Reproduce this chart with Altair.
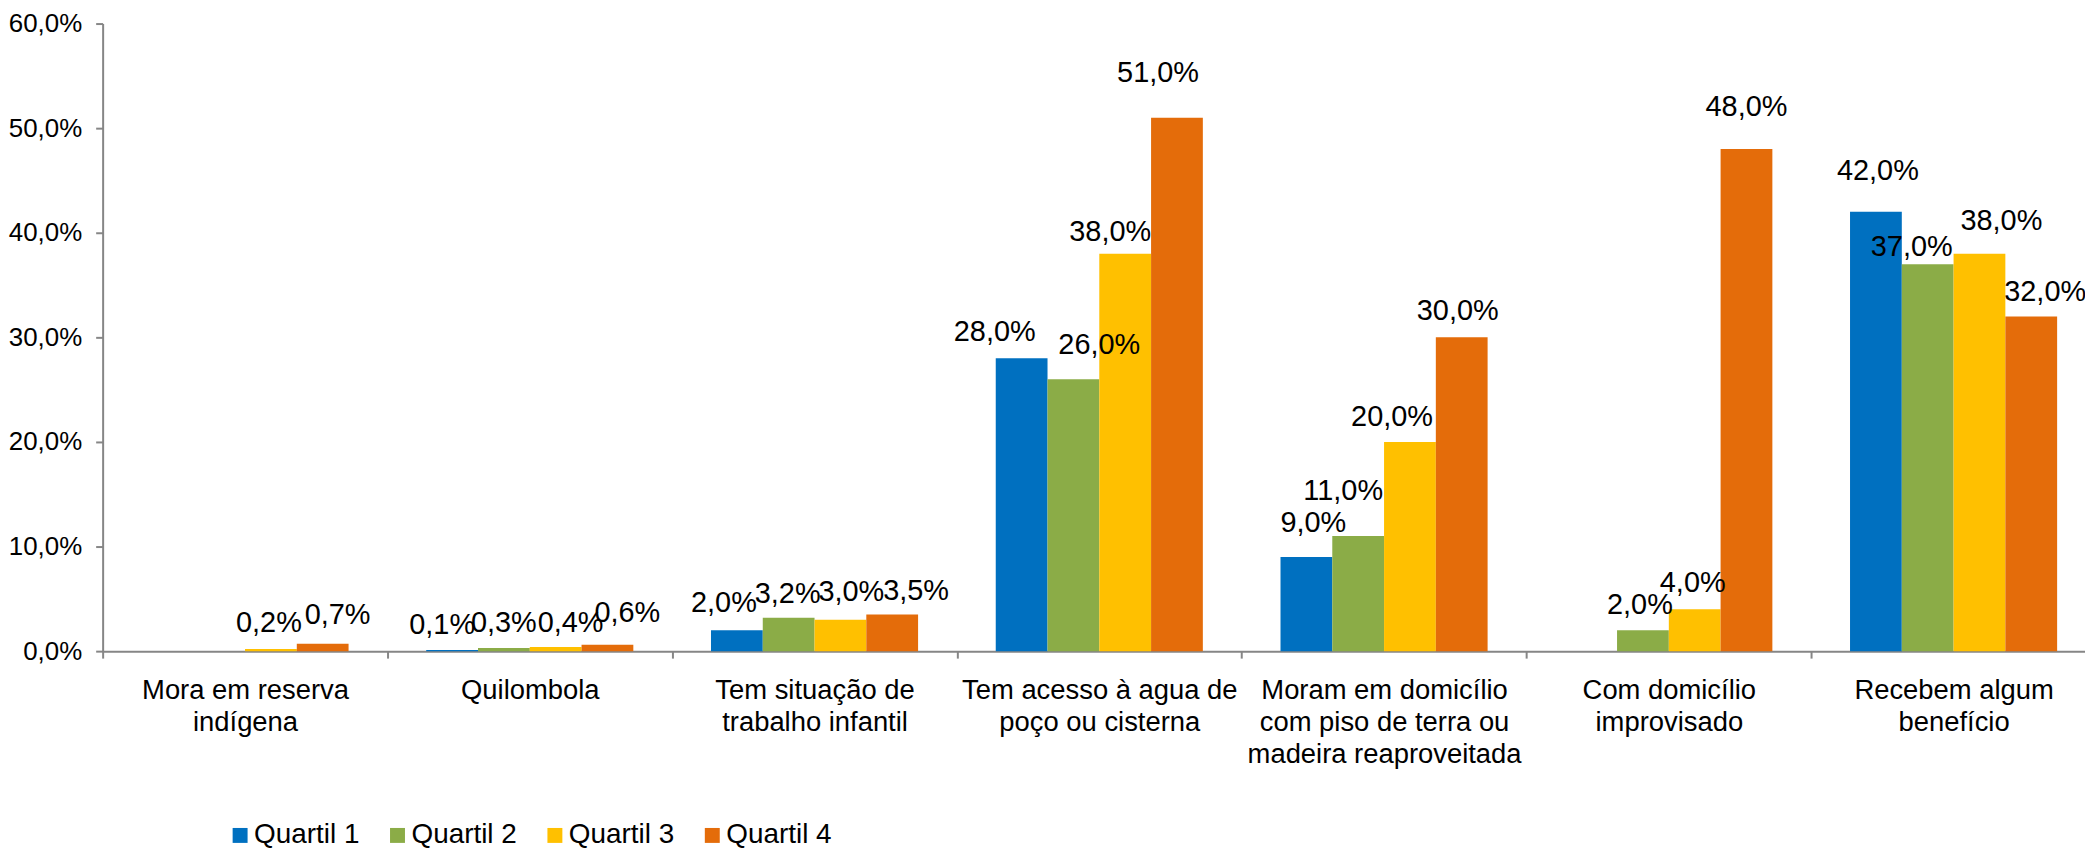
import altair as alt
import pandas as pd

categories = [
    "Mora em reserva\nindígena",
    "Quilombola",
    "Tem situação de\ntrabalho infantil",
    "Tem acesso à agua de\npoço ou cisterna",
    "Moram em domicílio\ncom piso de terra ou\nmadeira reaproveitada",
    "Com domicílio\nimprovisado",
    "Recebem algum\nbenefício",
]
series = ["Quartil 1", "Quartil 2", "Quartil 3", "Quartil 4"]

quartil_1 = [None, 0.1, 2.0, 28.0, 9.0, None, 42.0]
quartil_2 = [None, 0.3, 3.2, 26.0, 11.0, 2.0, 37.0]
quartil_3 = [0.2, 0.4, 3.0, 38.0, 20.0, 4.0, 38.0]
quartil_4 = [0.7, 0.6, 3.5, 51.0, 30.0, 48.0, 32.0]

colors = ["#0070C0", "#8BAC47", "#FFC000", "#E46C0A"]
y_ticks = [0, 10, 20, 30, 40, 50, 60]

# data-label nudges in pixels (horizontal shift, lift of baseline above bar top)
label_dx = [
    [0, -10, -13, -27, 7, 0, 2],
    [0, 0, -1, 26, -15, -3, -16],
    [-2, 15, 11, -15, -18, -2, 22],
    [15, 20, 24, -19, -4, 0, 14],
]
label_lift = [
    [16, 16, 18, 17, 25, 16, 32],
    [16, 16, 15, 25, 36, 16, 8],
    [17, 15, 19, 13, 16, 17, 24],
    [20, 23, 15, 36, 17, 33, 15],
]

values = [quartil_1, quartil_2, quartil_3, quartil_4]
rows = []
for si, s in enumerate(series):
    for ci, c in enumerate(categories):
        v = values[si][ci]
        if v is None:
            continue
        rows.append({
            "cat": c,
            "serie": s,
            "v": v,
            "lbl": f"{v:.1f}".replace(".", ",") + "%",
            "dx": label_dx[si][ci],
            "lift": label_lift[si][ci],
        })
df = pd.DataFrame(rows)

FONT = "Liberation Sans"
GRAY = "#868686"

x_enc = alt.X(
    "cat:N",
    sort=categories,
    scale=alt.Scale(paddingInner=0, paddingOuter=0, range=[0, 2001]),
    axis=alt.Axis(
        title=None,
        tickBand="extent",
        labelExpr="split(datum.label, '\\n')",
        labelLineHeight=32,
        labelPadding=19,
        labelLimit=400,
        labelOverlap=False,
        labelAngle=0,
        labelFlush=False,
        labelFontSize=27.5,
    ),
)
xoff_enc = alt.XOffset(
    "serie:N", sort=series, scale=alt.Scale(paddingInner=0, paddingOuter=0.75)
)
y_enc = alt.Y(
    "v:Q",
    scale=alt.Scale(domain=[0, 60], nice=False, zero=True),
    axis=alt.Axis(
        title=None,
        values=y_ticks,
        labelExpr="replace(format(datum.value, '.1f'), '.', ',') + '%'",
        labelPadding=14,
        labelFontSize=26,
        grid=False,
    ),
)

base = alt.Chart(df)

bars = base.mark_bar().encode(
    x=x_enc,
    xOffset=xoff_enc,
    y=y_enc,
    color=alt.Color(
        "serie:N",
        scale=alt.Scale(domain=series, range=colors),
        legend=alt.Legend(
            title=None,
            orient="none",
            direction="horizontal",
            legendX=124,
            legendY=801,
            symbolType="square",
            symbolSize=225,
            symbolStrokeWidth=0,
            labelFontSize=28,
            labelFont=FONT,
            labelColor="black",
            labelOffset=0,
            columnPadding=24,
            padding=0,
            labelLimit=300,
        ),
    ),
)

labels = base.mark_text(
    align="center",
    baseline="alphabetic",
    fontSize=29,
    font=FONT,
    color="black",
    dx=alt.expr("datum.dx"),
    dy=alt.expr("-datum.lift"),
).encode(
    x=x_enc,
    xOffset=xoff_enc,
    y=y_enc,
    text="lbl:N",
)

chart = (
    alt.layer(bars, labels)
    .properties(
        width=1990,
        height=630,
        padding={"left": 95, "top": 14, "right": 0, "bottom": 197},
        autosize=alt.AutoSizeParams(type="none"),
        background="white",
    )
    .configure_view(stroke=None)
    .configure_axis(
        domainColor=GRAY,
        domainWidth=2,
        tickColor=GRAY,
        tickWidth=2,
        tickSize=7,
        labelFont=FONT,
        labelColor="black",
    )
)

chart.save("out.html", embed_options={"renderer": "svg", "actions": False})
